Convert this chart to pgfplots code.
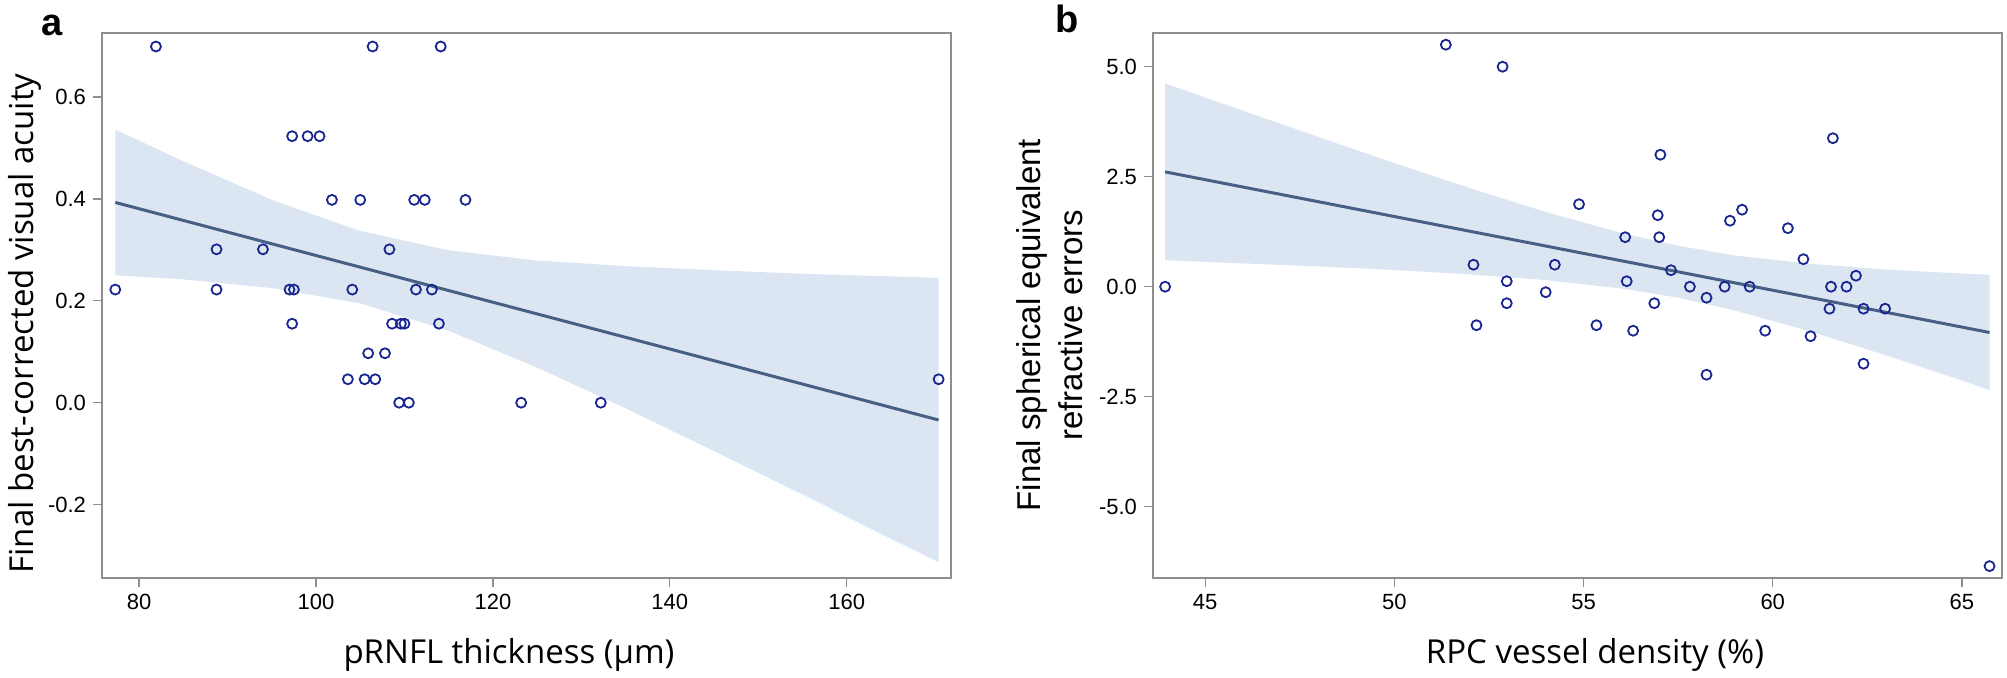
\documentclass[border=0pt]{standalone}
\usepackage{fontspec}
\setmainfont{Liberation Sans}
\newfontfamily\labelfont{Open Sans}
\usepackage{pgfplots}
\pgfplotsset{compat=1.18}

\definecolor{ptcol}{HTML}{1A2690}
\definecolor{fitcol}{HTML}{475F82}
\definecolor{bandcol}{HTML}{DCE6F2}
\definecolor{axcol}{HTML}{8E8E8E}

\pgfplotsset{
  panel/.style={
    scale only axis, width=424.5pt, height=272.5pt,
    axis line style={axcol, line width=0.7pt},
    tick style={axcol, line width=0.7pt},
    tick align=outside, tick pos=left, major tick length=4.5pt,
    ticklabel style={font=\fontsize{11}{13}\selectfont},
    /pgf/number format/assume math mode=true,
    yticklabel style={/pgf/number format/.cd, fixed, fixed zerofill, precision=1},
  },
  pts/.style={only marks, mark=o, mark size=2.5pt,
    mark options={draw=ptcol, fill=white, line width=0.9pt}},
  fit/.style={fitcol, line width=1.5pt},
  band/.style={fill=bandcol, draw=none},
}

\begin{document}
\begin{tikzpicture}
\path[use as bounding box] (0,0) rectangle (1003.5pt,-339pt);

% panel a
\begin{axis}[panel, at={(51pt,-289pt)}, anchor=south west,
    xmin=75.8, xmax=171.8, ymin=-0.344, ymax=0.7255,
    xtick={80,100,120,140,160}, ytick={-0.2,0,0.2,0.4,0.6}]
  \addplot[band] coordinates {
    (77.3,0.536)(85,0.474)(95,0.398)(105,0.337)(115,0.299)(125,0.279)
    (135,0.268)(145,0.260)(155,0.253)(165,0.248)(170.4,0.245)
    (170.4,-0.313)(165,-0.267)(155,-0.180)(145,-0.095)(135,-0.011)
    (125,0.069)(115,0.141)(105,0.195)(95,0.225)(85,0.242)(77.3,0.250)} -- cycle;
  \addplot[fit] coordinates {(77.3,0.393)(170.4,-0.034)};
  \addplot[pts] coordinates {
    (81.9,0.699)(106.4,0.699)(114.1,0.699)
    (97.3,0.523)(99.05,0.523)(100.4,0.523)
    (101.8,0.398)(105.0,0.398)(111.1,0.398)(112.3,0.398)(116.9,0.398)
    (88.75,0.301)(94.0,0.301)(108.3,0.301)
    (77.3,0.222)(88.75,0.222)(97.0,0.222)(97.5,0.222)(104.1,0.222)(111.3,0.222)(113.1,0.222)
    (97.3,0.155)(108.6,0.155)(109.6,0.155)(110.0,0.155)(113.9,0.155)
    (105.9,0.097)(107.8,0.097)
    (103.6,0.046)(105.5,0.046)(106.7,0.046)(170.4,0.046)
    (109.4,0)(110.5,0)(123.2,0)(132.2,0)};
\end{axis}

% panel b
\begin{axis}[panel, at={(576.5pt,-289pt)}, anchor=south west,
    xmin=43.62, xmax=66.06, ymin=-6.62, ymax=5.766,
    xtick={45,50,55,60,65}, ytick={-5,-2.5,0,2.5,5}]
  \addplot[band] coordinates {
    (43.94,4.62)(46,4.00)(48,3.40)(50,2.81)(52,2.24)(54,1.70)(56,1.22)
    (57.5,0.93)(59,0.71)(61,0.52)(63,0.39)(65,0.30)(65.73,0.27)
    (65.73,-2.35)(65,-2.13)(63,-1.56)(61,-1.02)(59,-0.54)(57.5,-0.25)
    (56,-0.04)(54,0.15)(52,0.28)(50,0.38)(48,0.46)(46,0.53)(43.94,0.60)} -- cycle;
  \addplot[fit] coordinates {(43.94,2.61)(65.73,-1.04)};
  \addplot[pts] coordinates {
    (43.94,0)(51.36,5.5)(52.86,5.0)(57.03,3.0)(61.59,3.375)
    (54.88,1.875)(56.96,1.625)(58.87,1.5)(59.19,1.75)(60.4,1.33)
    (56.1,1.125)(57.0,1.125)(60.81,0.625)(52.09,0.5)(54.24,0.5)
    (57.31,0.375)(62.2,0.25)(52.97,0.125)(56.14,0.125)
    (57.81,0)(58.73,0)(59.39,0)(61.54,0)(61.95,0)
    (58.25,-0.25)(54.0,-0.125)(52.97,-0.375)(56.87,-0.375)
    (61.5,-0.5)(62.4,-0.5)(62.97,-0.5)
    (52.17,-0.875)(55.34,-0.875)(56.31,-1.0)(59.8,-1.0)
    (61.0,-1.125)(62.4,-1.75)(58.25,-2.0)(65.73,-6.35)};
\end{axis}

% panel letters and axis titles
\node[anchor=base west, font=\bfseries\fontsize{19}{22}\selectfont] at (17pt,-18pt) {a};
\node[anchor=base west, font=\bfseries\fontsize{19}{22}\selectfont] at (524pt,-16.5pt) {b};
\node[anchor=base, font=\labelfont\fontsize{16.5}{19}\selectfont] at (254.5pt,-331.5pt) {pRNFL thickness (µm)};
\node[anchor=base, font=\labelfont\fontsize{16.5}{19}\selectfont] at (797.5pt,-331.5pt) {RPC vessel  density (\%)};
\node[anchor=base, rotate=90, font=\labelfont\fontsize{16.5}{19}\selectfont] at (16.5pt,-161.75pt) {Final best-corrected visual acuity};
\node[rotate=90, align=center, font=\fontsize{16.5}{21}\selectfont] at (525pt,-162.5pt) {Final spherical equivalent\\refractive errors};
\end{tikzpicture}
\end{document}
